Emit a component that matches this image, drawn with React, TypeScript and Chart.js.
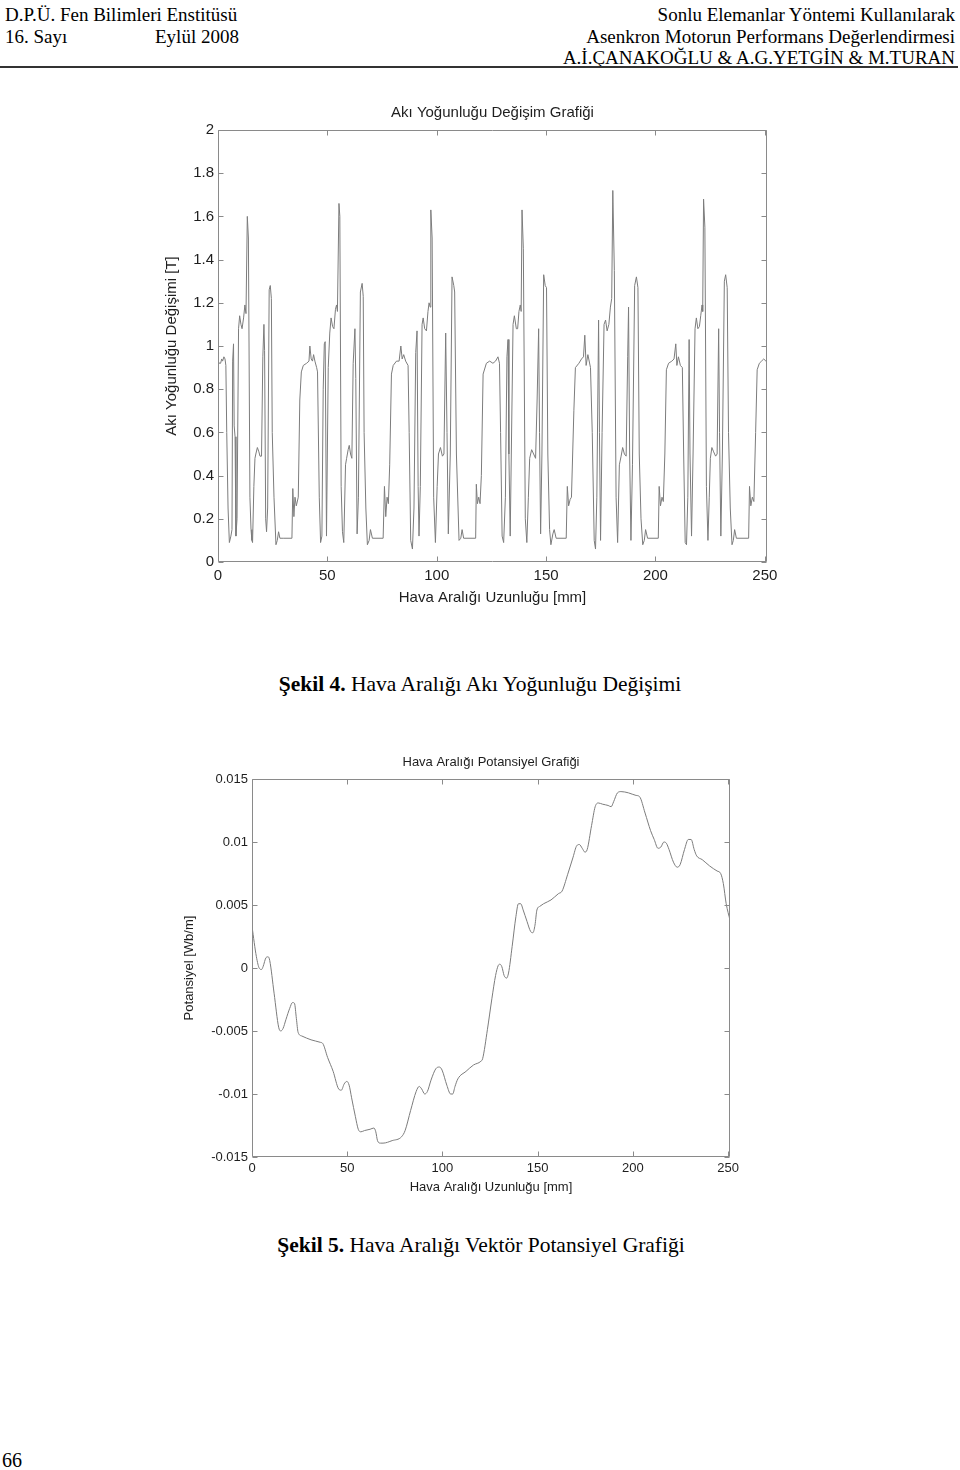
import React, { useEffect, useRef } from "react";
import { Chart, registerables } from "chart.js";

Chart.register(...registerables);

// ---------- Chart 1: flux density (Akı Yoğunluğu) ----------
const fluxX = [
  0.0, 0.6, 1.2, 1.7, 2.1, 2.7, 3.2, 3.6, 4.0, 4.6, 5.2, 5.9, 6.4, 6.7, 7.1, 7.4, 7.8, 8.2, 8.7, 9.4,
  9.9, 10.5, 11.0, 11.7, 12.3, 12.8, 13.4, 13.9, 14.6, 15.1, 15.5, 15.8, 16.4, 16.9, 17.3, 18.0, 18.7, 19.2, 19.9, 20.5,
  21.0, 21.3, 21.8, 22.2, 22.7, 23.4, 23.9, 24.4, 24.8, 25.6, 26.5, 27.1, 27.7, 28.3, 29.8, 33.8, 34.2, 34.7, 35.2, 35.8,
  36.7, 37.4, 38.1, 39.0, 40.5, 41.6, 42.0, 42.6, 43.2, 43.7, 44.3, 45.1, 45.5, 46.3, 46.9, 47.5, 48.1, 48.6, 49.0, 49.6,
  50.4, 51.1, 51.7, 52.4, 53.0, 53.7, 54.2, 54.6, 55.3, 55.7, 56.3, 56.9, 57.5, 58.3, 58.8, 59.5, 60.0, 60.6, 61.2, 61.8,
  62.6, 63.0, 63.6, 64.2, 65.1, 65.9, 66.4, 66.8, 67.6, 68.3, 69.1, 69.7, 70.6, 75.5, 76.1, 76.7, 77.3, 77.9, 78.5, 79.3,
  80.1, 81.6, 82.8, 83.6, 84.2, 84.9, 85.8, 86.9, 87.4, 88.1, 88.9, 89.6, 90.4, 91.0, 91.5, 91.9, 92.5, 93.3, 93.8, 94.5,
  95.3, 96.0, 96.5, 97.0, 97.3, 97.9, 98.6, 99.4, 100.2, 100.8, 101.7, 102.6, 103.3, 104.1, 104.7, 105.3, 106.2, 107.0, 107.8, 108.2,
  109.0, 110.2, 111.0, 111.6, 112.3, 117.8, 118.1, 118.6, 119.2, 119.8, 120.4, 121.2, 122.7, 124.2, 125.7, 126.9, 128.0, 128.7, 129.2, 129.9,
  130.6, 131.4, 132.1, 132.6, 133.0, 133.6, 134.1, 134.9, 135.5, 136.4, 137.0, 137.6, 138.2, 138.6, 139.0, 139.6, 140.5, 141.2, 141.9, 142.5,
  143.4, 144.3, 145.2, 145.9, 146.6, 147.0, 147.5, 148.1, 148.9, 149.6, 150.2, 150.8, 151.6, 152.2, 153.1, 153.7, 154.6, 159.2, 159.7, 160.3,
  161.0, 161.6, 162.7, 163.4, 165.0, 166.2, 167.1, 167.7, 168.3, 169.1, 170.3, 171.1, 172.0, 172.6, 173.2, 174.0, 174.4, 174.9, 175.6, 176.5,
  177.2, 177.9, 178.7, 179.4, 180.0, 180.5, 181.2, 182.0, 182.7, 183.5, 184.3, 185.0, 185.8, 186.6, 187.3, 187.7, 188.2, 188.8, 189.5, 190.5,
  191.3, 192.0, 192.6, 193.4, 194.2, 194.9, 195.5, 196.4, 201.3, 201.7, 202.3, 203.0, 203.6, 204.3, 205.0, 206.0, 207.5, 208.5, 209.3, 209.8,
  210.5, 211.4, 212.3, 212.9, 213.6, 214.2, 214.8, 215.4, 215.8, 216.5, 217.2, 218.1, 218.7, 219.4, 220.1, 220.7, 221.3, 221.6, 222.0, 222.6,
  223.3, 224.0, 224.6, 225.1, 225.8, 226.6, 227.5, 228.2, 228.9, 229.3, 229.9, 230.6, 231.5, 232.1, 232.8, 233.4, 234.2, 235.0, 235.6, 236.2,
  237.0, 242.6, 243.0, 243.6, 244.3, 245.0, 245.8, 246.5, 247.5, 248.5, 249.5, 250.5, 251.0,
];
const fluxY = [
  0.93, 0.92, 0.92, 0.94, 0.93, 0.95, 0.94, 0.91, 0.60, 0.25, 0.09, 0.12, 0.15, 0.93, 1.01, 0.63, 0.58, 0.12, 0.20, 1.08,
  1.14, 1.10, 1.08, 1.13, 1.19, 1.15, 1.60, 1.50, 0.30, 0.15, 0.10, 0.09, 0.35, 0.48, 0.50, 0.53, 0.51, 0.49, 0.49, 0.95,
  1.10, 0.98, 0.20, 0.14, 0.25, 1.26, 1.28, 1.22, 0.60, 0.30, 0.08, 0.10, 0.14, 0.11, 0.11, 0.11, 0.34, 0.21, 0.30, 0.26,
  0.30, 0.75, 0.88, 0.91, 0.92, 0.93, 1.00, 0.94, 0.93, 0.96, 0.93, 0.90, 0.88, 0.30, 0.09, 0.12, 0.80, 1.01, 1.02, 0.12,
  0.90, 1.06, 1.13, 1.09, 1.08, 1.17, 1.19, 1.16, 1.66, 1.60, 0.35, 0.14, 0.09, 0.45, 0.48, 0.52, 0.54, 0.50, 0.48, 0.92,
  1.08, 0.85, 0.13, 0.30, 1.25, 1.29, 1.23, 0.60, 0.25, 0.08, 0.10, 0.15, 0.11, 0.11, 0.35, 0.21, 0.30, 0.27, 0.45, 0.87,
  0.91, 0.93, 0.93, 1.00, 0.94, 0.96, 0.93, 0.91, 0.60, 0.10, 0.06, 0.25, 0.97, 1.07, 0.35, 0.12, 0.35, 1.10, 1.13, 1.08,
  1.07, 1.16, 1.20, 1.18, 1.63, 1.50, 0.30, 0.09, 0.35, 0.50, 0.53, 0.49, 0.50, 1.06, 0.60, 0.13, 0.50, 1.32, 1.28, 1.25,
  0.50, 0.10, 0.11, 0.15, 0.11, 0.11, 0.36, 0.27, 0.30, 0.27, 0.40, 0.87, 0.92, 0.93, 0.92, 0.93, 0.95, 0.92, 0.60, 0.12,
  0.09, 0.30, 0.95, 1.03, 0.50, 0.12, 0.50, 1.10, 1.14, 1.08, 1.08, 1.16, 1.19, 1.16, 1.63, 1.45, 0.20, 0.09, 0.30, 0.48,
  0.52, 0.50, 0.48, 0.75, 1.08, 0.60, 0.13, 0.50, 1.33, 1.28, 1.27, 0.50, 0.15, 0.08, 0.13, 0.15, 0.11, 0.11, 0.35, 0.26,
  0.29, 0.30, 0.70, 0.90, 0.92, 0.94, 0.95, 1.05, 0.91, 0.96, 0.90, 0.60, 0.10, 0.06, 0.30, 1.12, 0.60, 0.10, 0.60, 1.10,
  1.12, 1.07, 1.10, 1.18, 1.22, 1.72, 1.35, 0.30, 0.09, 0.45, 0.49, 0.53, 0.50, 0.49, 0.95, 1.18, 0.50, 0.10, 0.45, 1.28,
  1.32, 1.27, 0.50, 0.20, 0.08, 0.10, 0.15, 0.11, 0.11, 0.35, 0.26, 0.30, 0.28, 0.50, 0.89, 0.92, 0.93, 0.94, 1.01, 0.91,
  0.95, 0.91, 0.90, 0.50, 0.09, 0.08, 0.30, 1.03, 0.50, 0.12, 0.50, 1.08, 1.13, 1.08, 1.09, 1.14, 1.19, 1.16, 1.68, 1.55,
  0.35, 0.10, 0.30, 0.48, 0.53, 0.51, 0.49, 0.50, 1.08, 0.60, 0.12, 0.50, 1.30, 1.33, 1.27, 0.60, 0.25, 0.08, 0.10, 0.15,
  0.11, 0.11, 0.35, 0.26, 0.30, 0.28, 0.60, 0.89, 0.92, 0.93, 0.94, 0.93, 0.93,
];
const fluxYTicks = [0, 0.2, 0.4, 0.6, 0.8, 1, 1.2, 1.4, 1.6, 1.8, 2];
const fluxYTickLabels = ["0", "0.2", "0.4", "0.6", "0.8", "1", "1.2", "1.4", "1.6", "1.8", "2"];

// ---------- Chart 2: vector potential (Potansiyel) ----------
const potX = [
  0.0, 2.3, 3.9, 5.0, 5.8, 7.4, 8.5, 9.3, 11.6, 14.0, 15.1, 16.3, 17.8, 19.8, 21.3, 22.3, 23.3, 24.2, 26.2, 31.0,
  35.9, 37.2, 39.7, 42.6, 45.5, 46.9, 48.4, 49.8, 51.0, 52.3, 54.3, 55.8, 57.2, 59.1, 62.0, 64.0, 65.0, 65.9, 67.4, 68.8,
  73.6, 78.5, 80.4, 83.3, 86.2, 87.8, 89.1, 90.7, 92.1, 94.0, 96.5, 98.4, 99.8, 102.3, 104.3, 105.4, 106.6, 108.1, 112.4, 116.3,
  120.2, 121.1, 123.6, 126.0, 127.9, 129.3, 130.2, 131.2, 132.4, 133.7, 134.7, 136.6, 138.6, 139.9, 141.1, 142.4, 144.4, 146.3, 147.5, 148.6,
  149.6, 151.2, 153.1, 157.0, 160.9, 162.8, 165.7, 168.6, 170.5, 171.9, 173.4, 174.8, 176.0, 178.3, 180.2, 181.8, 184.1, 187.0, 188.6, 189.9,
  191.9, 193.8, 197.7, 201.6, 203.5, 206.4, 209.3, 211.2, 213.2, 214.7, 216.3, 217.6, 219.0, 221.3, 223.3, 224.8, 227.1, 229.1, 230.6, 232.2,
  233.5, 236.4, 240.3, 244.2, 246.1, 247.5, 249.0, 251.0,
];
const potY = [
  0.0033, 0.0009, -0.00004, -0.00012, 0.0001, 0.00083, 0.00089, 0.0006, -0.002, -0.0047, -0.005, -0.0048, -0.0041, -0.0032, -0.00274, -0.0028, -0.004, -0.0051, -0.0054, -0.0057,
  -0.0059, -0.006, -0.0071, -0.0082, -0.0096, -0.0097, -0.0092, -0.009, -0.0093, -0.0103, -0.0118, -0.0128, -0.013, -0.0129, -0.0128, -0.0127, -0.013, -0.0137, -0.0139, -0.0139,
  -0.0137, -0.0134, -0.0129, -0.0113, -0.0098, -0.0094, -0.0096, -0.01, -0.0098, -0.0089, -0.008, -0.00786, -0.0081, -0.0093, -0.01, -0.01, -0.0094, -0.0088, -0.0082, -0.0077,
  -0.0074, -0.0072, -0.0049, -0.0024, -0.0006, 0.0002, 0.0003, 0.0001, -0.0006, -0.0008, -0.0004, 0.0017, 0.0041, 0.0051, 0.0051, 0.0046, 0.0037, 0.0029, 0.0028, 0.0034,
  0.0046, 0.0049, 0.0051, 0.0054, 0.0059, 0.0061, 0.0074, 0.0088, 0.0097, 0.0098, 0.0095, 0.0092, 0.0094, 0.0113, 0.0128, 0.0131, 0.013, 0.0129, 0.0128, 0.0132,
  0.0139, 0.014, 0.0139, 0.0137, 0.0136, 0.0123, 0.0109, 0.0102, 0.0095, 0.0096, 0.01, 0.0099, 0.0094, 0.0084, 0.008, 0.0082, 0.0094, 0.0102, 0.0102, 0.0094,
  0.0089, 0.0086, 0.0081, 0.0077, 0.0075, 0.0067, 0.0051, 0.0038,
];
const potYTicks = [-0.015, -0.01, -0.005, 0, 0.005, 0.01, 0.015];
const potYTickLabels = ["-0.015", "-0.01", "-0.005", "0", "0.005", "0.01", "0.015"];

// shared x axis ticks
const mmTicks = [0, 50, 100, 150, 200, 250];
const mmTickLabels = ["0", "50", "100", "150", "200", "250"];

const SANS = "'Liberation Sans', Arial, Helvetica, sans-serif";
const SERIF = "'Liberation Serif', 'Times New Roman', Times, serif";
const FRAME = "#8a8a8a";
const LINE = "#7c7c7c";
const TEXT = "#1e1e1e";

const inwardAxes = {
  id: "inwardAxes",
  afterDatasetsDraw(chart: any, _args: any, opts: any) {
    const { ctx, chartArea } = chart;
    const xs = chart.scales.x;
    const ys = chart.scales.y;
    const len = opts.len || 5;
    const L = Math.round(chartArea.left) + 0.5;
    const R = Math.round(chartArea.right) - 0.5;
    const T = Math.round(chartArea.top) + 0.5;
    const B = Math.round(chartArea.bottom) - 0.5;
    ctx.save();
    ctx.strokeStyle = opts.color || FRAME;
    ctx.lineWidth = 1;
    ctx.beginPath();
    ctx.rect(L, T, R - L, B - T);
    xs.ticks.forEach((t: any) => {
      const p = Math.round(xs.getPixelForValue(t.value)) + 0.5;
      ctx.moveTo(p, B);
      ctx.lineTo(p, B - len);
      ctx.moveTo(p, T);
      ctx.lineTo(p, T + len);
    });
    ys.ticks.forEach((t: any) => {
      const p = Math.round(ys.getPixelForValue(t.value)) + 0.5;
      ctx.moveTo(L, p);
      ctx.lineTo(L + len, p);
      ctx.moveTo(R, p);
      ctx.lineTo(R - len, p);
    });
    ctx.stroke();
    ctx.restore();
  },
};

function buildConfig(p: {
  xs: number[];
  ys: number[];
  yMin: number;
  yMax: number;
  yTicks: number[];
  yLabels: string[];
  title: string;
  yTitle: string;
  xTitle: string;
  fs: number;
  titlePad: { top: number; bottom: number };
  yTitlePad: number;
  xTitlePad: number;
  yWidth: number;
  xHeight: number;
  rightPad: number;
  xTickPad: number;
  smooth: boolean;
}): any {
  const font = { family: SANS, size: p.fs, weight: "normal" as const };
  return {
    type: "line",
    data: {
      datasets: [
        {
          data: p.xs.map((x, i) => ({ x, y: p.ys[i] })),
          borderColor: LINE,
          borderWidth: 1,
          pointRadius: 0,
          fill: false,
          tension: 0,
          cubicInterpolationMode: p.smooth ? "monotone" : "default",
        },
      ],
    },
    options: {
      animation: false,
      responsive: false,
      events: [],
      layout: { padding: { left: 0, right: p.rightPad, top: 0, bottom: 0 } },
      plugins: {
        legend: { display: false },
        tooltip: { enabled: false },
        title: {
          display: true,
          text: p.title,
          fullSize: false,
          color: TEXT,
          font,
          padding: p.titlePad,
        },
        inwardAxes: { color: FRAME, len: 5 },
      },
      scales: {
        x: {
          type: "linear",
          min: 0,
          max: 251,
          afterBuildTicks: (s: any) => {
            s.ticks = mmTicks.map((v) => ({ value: v }));
          },
          afterFit: (s: any) => {
            s.height = p.xHeight;
          },
          grid: { display: false, drawTicks: false, tickLength: 0 },
          border: { display: false },
          ticks: {
            autoSkip: false,
            maxRotation: 0,
            padding: p.xTickPad,
            color: TEXT,
            font,
            callback: (_v: any, i: number) => mmTickLabels[i],
          },
          title: {
            display: true,
            text: p.xTitle,
            color: TEXT,
            font,
            padding: { top: 0, bottom: p.xTitlePad },
          },
        },
        y: {
          type: "linear",
          min: p.yMin,
          max: p.yMax,
          afterBuildTicks: (s: any) => {
            s.ticks = p.yTicks.map((v) => ({ value: v }));
          },
          afterFit: (s: any) => {
            s.width = p.yWidth;
          },
          grid: { display: false, drawTicks: false, tickLength: 0 },
          border: { display: false },
          ticks: {
            autoSkip: false,
            padding: 4,
            color: TEXT,
            font,
            callback: (_v: any, i: number) => p.yLabels[i],
          },
          title: {
            display: true,
            text: p.yTitle,
            color: TEXT,
            font,
            padding: { top: p.yTitlePad, bottom: 0 },
          },
        },
      },
    },
    plugins: [inwardAxes],
  };
}

function Txt(props: {
  x?: number;
  right?: number;
  cx?: number;
  y: number;
  size: number;
  children: React.ReactNode;
  family?: string;
}) {
  const lh = Math.round(props.size * 1.2);
  const style: React.CSSProperties = {
    position: "absolute",
    top: props.y - lh / 2,
    lineHeight: lh + "px",
    fontSize: props.size,
    fontFamily: props.family || SERIF,
    color: "#000",
    whiteSpace: "nowrap",
  };
  if (props.x !== undefined) style.left = props.x;
  if (props.right !== undefined) {
    style.right = 960 - props.right;
    style.textAlign = "right";
  }
  if (props.cx !== undefined) {
    style.left = 0;
    style.width = props.cx * 2;
    style.textAlign = "center";
  }
  return <div style={style}>{props.children}</div>;
}

export default function App() {
  const c1 = useRef<HTMLCanvasElement>(null);
  const c2 = useRef<HTMLCanvasElement>(null);

  useEffect(() => {
    const ch1 = new Chart(
      c1.current as HTMLCanvasElement,
      buildConfig({
        xs: fluxX,
        ys: fluxY,
        yMin: 0,
        yMax: 2,
        yTicks: fluxYTicks,
        yLabels: fluxYTickLabels,
        title: "Akı Yoğunluğu Değişim Grafiği",
        yTitle: "Akı Yoğunluğu Değişimi [T]",
        xTitle: "Hava Aralığı Uzunluğu [mm]",
        fs: 15,
        titlePad: { top: 9, bottom: 8 },
        yTitlePad: 13,
        xTitlePad: 8,
        yWidth: 68,
        xHeight: 53,
        rightPad: 23,
        xTickPad: 5,
        smooth: false,
      })
    );
    const ch2 = new Chart(
      c2.current as HTMLCanvasElement,
      buildConfig({
        xs: potX,
        ys: potY,
        yMin: -0.015,
        yMax: 0.015,
        yTicks: potYTicks,
        yLabels: potYTickLabels,
        title: "Hava Aralığı Potansiyel Grafiği",
        yTitle: "Potansiyel [Wb/m]",
        xTitle: "Hava Aralığı Uzunluğu [mm]",
        fs: 13,
        titlePad: { top: 15, bottom: 8.4 },
        yTitlePad: 12,
        xTitlePad: 15,
        yWidth: 82,
        xHeight: 53,
        rightPad: 30,
        xTickPad: 4,
        smooth: true,
      })
    );
    return () => {
      ch1.destroy();
      ch2.destroy();
    };
  }, []);

  return (
    <div
      style={{
        position: "absolute",
        left: 0,
        top: 0,
        width: 960,
        height: 1470,
        background: "#fff",
        overflow: "hidden",
      }}
    >
      <Txt x={5} y={14} size={19}>D.P.Ü. Fen Bilimleri Enstitüsü</Txt>
      <Txt x={5} y={36} size={19}>16. Sayı</Txt>
      <Txt x={155} y={36} size={19}>Eylül 2008</Txt>
      <Txt right={955} y={14} size={19}>Sonlu Elemanlar Yöntemi Kullanılarak</Txt>
      <Txt right={955} y={36} size={19}>Asenkron Motorun Performans Değerlendirmesi</Txt>
      <Txt right={955} y={57} size={19}>A.İ.ÇANAKOĞLU &amp; A.G.YETGİN &amp; M.TURAN</Txt>
      <div style={{ position: "absolute", left: 0, top: 66, width: 958, height: 2, background: "#333" }} />

      <canvas
        ref={c1}
        width={640}
        height={520}
        style={{ position: "absolute", left: 150, top: 95, width: 640, height: 520 }}
      />

      <Txt cx={480} y={684} size={21.5}>
        <b>Şekil 4.</b> Hava Aralığı Akı Yoğunluğu Değişimi
      </Txt>

      <canvas
        ref={c2}
        width={590}
        height={470}
        style={{ position: "absolute", left: 170, top: 740, width: 590, height: 470 }}
      />

      <Txt cx={481} y={1245} size={21.5}>
        <b>Şekil 5.</b> Hava Aralığı Vektör Potansiyel Grafiği
      </Txt>

      <Txt x={2} y={1460} size={20}>66</Txt>
    </div>
  );
}
